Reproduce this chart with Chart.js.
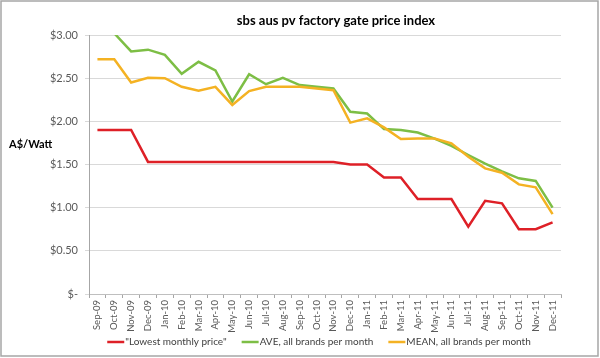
<!DOCTYPE html>
<html><head><meta charset="utf-8">
<script src="https://cdn.jsdelivr.net/npm/chart.js@4.4.0/dist/chart.umd.min.js"></script>
<style>html,body{margin:0;padding:0;background:#fff;} canvas{display:block;}</style>
</head><body>
<canvas id="c" width="600" height="358"></canvas>
<script>
const categories = ['Sep-09','Oct-09','Nov-09','Dec-09',
  'Jan-10','Feb-10','Mar-10','Apr-10','May-10','Jun-10','Jul-10','Aug-10','Sep-10','Oct-10','Nov-10','Dec-10',
  'Jan-11','Feb-11','Mar-11','Apr-11','May-11','Jun-11','Jul-11','Aug-11','Sep-11','Oct-11','Nov-11','Dec-11'];
const lowestPrice = [1.90,1.90,1.90,1.53,
  1.53,1.53,1.53,1.53,1.53,1.53,1.53,1.53,1.53,1.53,1.53,1.50,
  1.50,1.35,1.35,1.10,1.10,1.10,0.78,1.08,1.05,0.75,0.75,0.83];
const avePrice = [3.30,3.02,2.81,2.83,
  2.77,2.55,2.69,2.59,2.23,2.545,2.43,2.505,2.42,2.40,2.38,2.11,
  2.09,1.91,1.90,1.87,1.80,1.715,1.61,1.51,1.42,1.34,1.31,1.00];
const meanPrice = [2.72,2.72,2.45,2.505,
  2.50,2.40,2.355,2.40,2.19,2.35,2.40,2.40,2.40,2.38,2.36,1.985,
  2.035,1.93,1.795,1.80,1.80,1.745,1.59,1.455,1.405,1.27,1.235,0.925];
const yTickLabels = ['$-','$0.50','$1.00','$1.50','$2.00','$2.50','$3.00'];
const seriesNames = ['"Lowest monthly price"','AVE, all brands per month','MEAN, all brands per month'];
const titleText = 'sbs aus pv factory gate price index';
const yAxisTitle = 'A$/Watt';

const FONT = 'Lato';

const decor = {
  id: 'decor',
  afterDraw(chart) {
    const ctx = chart.ctx;
    ctx.save();
    ctx.fillStyle = '#000';
    ctx.textBaseline = 'middle';
    ctx.font = 'bold 13px ' + FONT;
    ctx.textAlign = 'center';
    ctx.fillText(titleText, 336, 21);
    ctx.font = 'bold 11px ' + FONT;
    ctx.textAlign = 'left';
    ctx.fillText(yAxisTitle, 9, 144);
    // legend
    ctx.font = '10px ' + FONT;
    ctx.fillStyle = '#404040';
    const dss = chart.data.datasets;
    const lineLen = 17, gap = 15;
    const widths = dss.map(ds => lineLen + 1 + ctx.measureText(ds.label).width);
    const total = widths.reduce((a, b) => a + b, 0) + gap * (dss.length - 1);
    let x = 319 - total / 2;
    const y = 342;
    dss.forEach((ds, i) => {
      ctx.strokeStyle = ds.borderColor;
      ctx.lineWidth = 2.5;
      ctx.beginPath(); ctx.moveTo(x, y); ctx.lineTo(x + lineLen, y); ctx.stroke();
      ctx.fillText(ds.label, x + lineLen + 1, y);
      x += widths[i] + gap;
    });
    ctx.strokeStyle = '#A6A6A6';
    ctx.lineWidth = 1.5;
    ctx.strokeRect(1, 1, 597, 355);
    ctx.restore();
  }
};

new Chart(document.getElementById('c'), {
  type: 'line',
  data: {
    labels: categories,
    datasets: [
      { label: seriesNames[0], data: lowestPrice, borderColor: '#DE2027', order: 0 },
      { label: seriesNames[1], data: avePrice, borderColor: '#7DBE45', order: 2 },
      { label: seriesNames[2], data: meanPrice, borderColor: '#F4B223', order: 1 }
    ]
  },
  options: {
    responsive: false,
    animation: false,
    devicePixelRatio: 1,
    layout: { padding: { left: 0, right: 39, top: 35, bottom: 22 } },
    elements: {
      line: { borderWidth: 2.5, tension: 0, fill: false },
      point: { radius: 0, hoverRadius: 0 }
    },
    plugins: { legend: { display: false }, title: { display: false }, tooltip: { enabled: false } },
    scales: {
      x: {
        type: 'category',
        offset: true,
        afterFit(s) { s.height = 42; },
        grid: { drawOnChartArea: false, drawTicks: true, tickLength: 4, color: '#A6A6A6', offset: true },
        border: { display: true, color: '#BFBFBF' },
        ticks: { minRotation: 90, maxRotation: 90, autoSkip: false, padding: 2,
          font: { family: FONT, size: 9.5 }, color: '#595959',
          callback: (v, i) => categories[i] }
      },
      y: {
        min: 0, max: 3,
        afterFit(s) { s.width = 89; },
        ticks: { stepSize: 0.5, padding: 7, font: { family: FONT, size: 11 }, color: '#595959',
          callback: (v, i) => yTickLabels[i] },
        grid: { color: '#D9D9D9', tickLength: 4, drawTicks: true },
        border: { display: true, color: '#A6A6A6' }
      }
    }
  },
  plugins: [decor]
});
</script>
</body></html>
